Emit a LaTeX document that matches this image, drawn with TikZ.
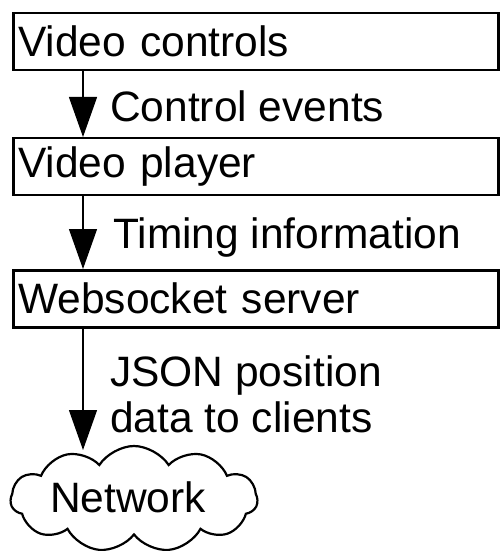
\documentclass[tikz,border=0pt]{standalone}
\usepackage{fontspec}
\setmainfont{Liberation Sans}
\usetikzlibrary{shapes.symbols,arrows.meta}
\begin{document}
\begin{tikzpicture}[x=1pt,y=-1pt,
  box/.style={draw, line width=2.5pt, anchor=north west, minimum width=485pt, minimum height=57pt,
    text width=475pt, inner xsep=5pt, inner ysep=0pt, align=left, font=\fontsize{42.5}{47}\selectfont},
  lbl/.style={anchor=base west, inner sep=0pt, font=\fontsize{42.5}{47}\selectfont},
  arr/.style={line width=1.3pt, -{Triangle[width=28pt,length=40pt]}},
  netcloud/.style={draw, cloud, cloud puffs=11, cloud puff arc=115, cloud ignores aspect, line width=2.2pt,
    minimum width=247pt, minimum height=106pt, inner sep=0pt}]
\useasboundingbox (0,0) rectangle (499,553);
\node[box] (vc) at (12,12) {Video controls};
\node[box] (vp) at (12,137) {Video player};
\node[box] (ws) at (12,269) {Websocket server};
\node[netcloud] (net) at (134,499) {};
\node[lbl, anchor=base] (nt) at (128,512) {Network};
\coordinate (netin) at (83,450);
\draw[arr] ([xshift=71pt]vc.south west) -- ([xshift=71pt]vp.north west);
\draw[arr] ([xshift=71pt]vp.south west) -- ([xshift=71pt]ws.north west);
\draw[arr] ([xshift=71pt]ws.south west) -- (netin);
\node[lbl] (l1) at (110,122) {Control events};
\node[lbl] (l2) at (113,248) {Timing information};
\node[lbl] (l3a) at (110,386) {JSON position};
\node[lbl] (l3b) at (110,432) {data to clients};
\end{tikzpicture}
\end{document}
